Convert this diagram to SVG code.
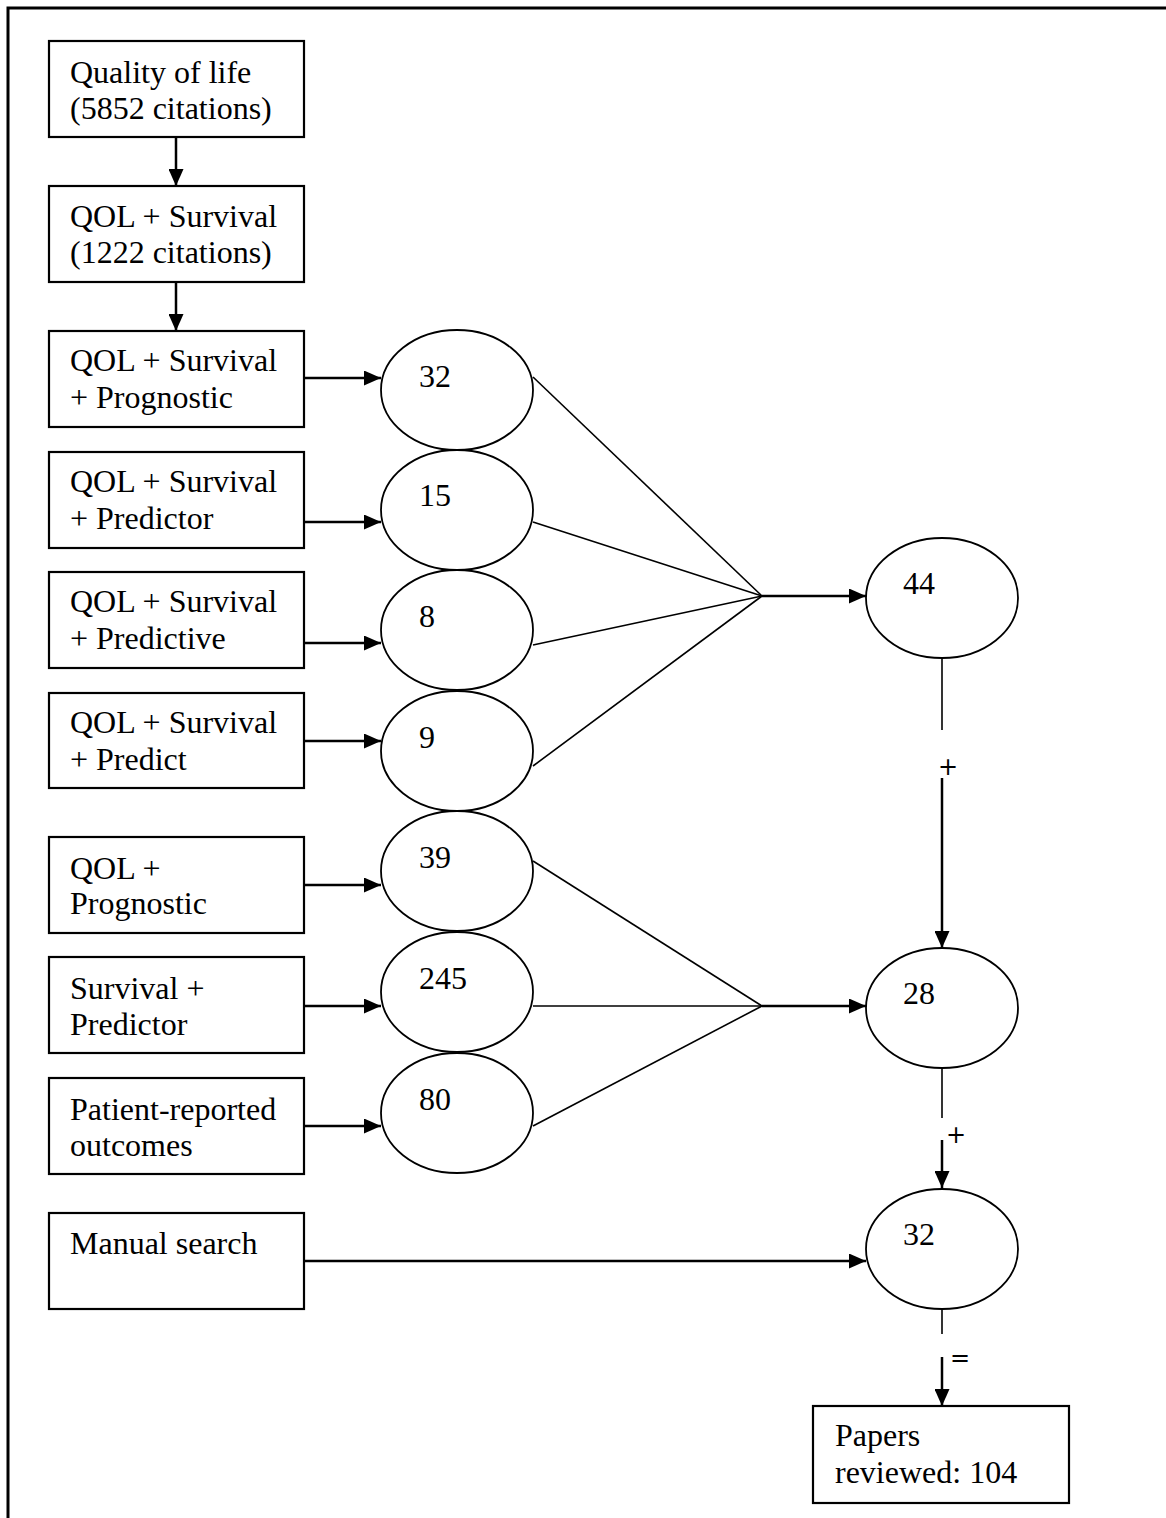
<svg xmlns="http://www.w3.org/2000/svg" width="1166" height="1518" viewBox="0 0 1166 1518">
<defs>
<style>
.box{fill:#fff;stroke:#000;stroke-width:2.2}
.ell{fill:#fff;stroke:#000;stroke-width:1.8}
.t{font-family:"Liberation Serif","Times New Roman",serif;font-size:32px;fill:#000}
.op{font-family:"DejaVu Sans",sans-serif;font-size:24px;fill:#000}
.ln{stroke:#000;stroke-width:1.6;fill:none}
.ar{stroke:#000;stroke-width:2.5;fill:none;marker-end:url(#ah)}
.frame{stroke:#000;stroke-width:3;fill:none}
</style>
<marker id="ah" markerWidth="17" markerHeight="15" refX="17" refY="7.5" orient="auto" markerUnits="userSpaceOnUse">
<path d="M0,0 L17,7.5 L0,15 Z" fill="#000"/>
</marker>
</defs>
<rect width="1166" height="1518" fill="#fff"/>
<path class="frame" d="M8,1518 L8,8 L1166,8"/>

<g id="connectors">
<line class="ar" x1="176" y1="137" x2="176" y2="186"/>
<line class="ar" x1="176" y1="282" x2="176" y2="331"/>
<line class="ar" x1="304" y1="378" x2="381" y2="378"/>
<line class="ar" x1="304" y1="522" x2="381" y2="522"/>
<line class="ar" x1="304" y1="643" x2="381" y2="643"/>
<line class="ar" x1="304" y1="741" x2="381" y2="741"/>
<line class="ar" x1="304" y1="885" x2="381" y2="885"/>
<line class="ar" x1="304" y1="1006" x2="381" y2="1006"/>
<line class="ar" x1="304" y1="1126" x2="381" y2="1126"/>
<line class="ar" x1="304" y1="1261" x2="866" y2="1261"/>
<line class="ln" x1="533" y1="377" x2="762" y2="596"/>
<line class="ln" x1="533" y1="522" x2="762" y2="596"/>
<line class="ln" x1="533" y1="645" x2="762" y2="596"/>
<line class="ln" x1="533" y1="766" x2="762" y2="596"/>
<line class="ar" x1="762" y1="596" x2="866" y2="596"/>
<line class="ln" x1="533" y1="861" x2="762" y2="1006"/>
<line class="ln" x1="533" y1="1006" x2="762" y2="1006"/>
<line class="ln" x1="533" y1="1126" x2="762" y2="1006"/>
<line class="ar" x1="762" y1="1006" x2="866" y2="1006"/>
<line class="ln" x1="942" y1="658" x2="942" y2="730"/>
<text class="op" x="938" y="775">+</text>
<line class="ar" x1="942" y1="778" x2="942" y2="948"/>
<line class="ln" x1="942" y1="1068" x2="942" y2="1118"/>
<text class="op" x="946" y="1143">+</text>
<line class="ar" x1="942" y1="1140" x2="942" y2="1188"/>
<line class="ln" x1="942" y1="1309" x2="942" y2="1334"/>
<text class="op" x="950" y="1366">=</text>
<line class="ar" x1="942" y1="1357" x2="942" y2="1406"/>
</g>

<g id="n1"><rect class="box" x="49" y="41" width="255" height="96"/><text class="t" x="70" y="83">Quality of life</text><text class="t" x="70" y="119">(5852 citations)</text></g>
<g id="n2"><rect class="box" x="49" y="186" width="255" height="96"/><text class="t" x="70" y="227">QOL + Survival</text><text class="t" x="70" y="263">(1222 citations)</text></g>
<g id="n3"><rect class="box" x="49" y="331" width="255" height="96"/><text class="t" x="70" y="371">QOL + Survival</text><text class="t" x="70" y="408">+ Prognostic</text></g>
<g id="n4"><rect class="box" x="49" y="452" width="255" height="96"/><text class="t" x="70" y="492">QOL + Survival</text><text class="t" x="70" y="529">+ Predictor</text></g>
<g id="n5"><rect class="box" x="49" y="572" width="255" height="96"/><text class="t" x="70" y="612">QOL + Survival</text><text class="t" x="70" y="649">+ Predictive</text></g>
<g id="n6"><rect class="box" x="49" y="693" width="255" height="95"/><text class="t" x="70" y="733">QOL + Survival</text><text class="t" x="70" y="770">+ Predict</text></g>
<g id="n7"><rect class="box" x="49" y="837" width="255" height="96"/><text class="t" x="70" y="879">QOL +</text><text class="t" x="70" y="914">Prognostic</text></g>
<g id="n8"><rect class="box" x="49" y="957" width="255" height="96"/><text class="t" x="70" y="999">Survival +</text><text class="t" x="70" y="1035">Predictor</text></g>
<g id="n9"><rect class="box" x="49" y="1078" width="255" height="96"/><text class="t" x="70" y="1120">Patient-reported</text><text class="t" x="70" y="1156">outcomes</text></g>
<g id="n10"><rect class="box" x="49" y="1213" width="255" height="96"/><text class="t" x="70" y="1254">Manual search</text></g>

<g id="e1"><ellipse class="ell" cx="457" cy="390" rx="76" ry="60"/><text class="t" x="419" y="387">32</text></g>
<g id="e2"><ellipse class="ell" cx="457" cy="510" rx="76" ry="60"/><text class="t" x="419" y="506">15</text></g>
<g id="e3"><ellipse class="ell" cx="457" cy="630" rx="76" ry="60"/><text class="t" x="419" y="627">8</text></g>
<g id="e4"><ellipse class="ell" cx="457" cy="751" rx="76" ry="60"/><text class="t" x="419" y="748">9</text></g>
<g id="e5"><ellipse class="ell" cx="457" cy="871" rx="76" ry="60"/><text class="t" x="419" y="868">39</text></g>
<g id="e6"><ellipse class="ell" cx="457" cy="992" rx="76" ry="60"/><text class="t" x="419" y="989">245</text></g>
<g id="e7"><ellipse class="ell" cx="457" cy="1113" rx="76" ry="60"/><text class="t" x="419" y="1110">80</text></g>
<g id="e8"><ellipse class="ell" cx="942" cy="598" rx="76" ry="60"/><text class="t" x="903" y="594">44</text></g>
<g id="e9"><ellipse class="ell" cx="942" cy="1008" rx="76" ry="60"/><text class="t" x="903" y="1004">28</text></g>
<g id="e10"><ellipse class="ell" cx="942" cy="1249" rx="76" ry="60"/><text class="t" x="903" y="1245">32</text></g>

<g id="n11"><rect class="box" x="813" y="1406" width="256" height="97"/><text class="t" x="835" y="1446">Papers</text><text class="t" x="835" y="1483">reviewed: 104</text></g>
</svg>
